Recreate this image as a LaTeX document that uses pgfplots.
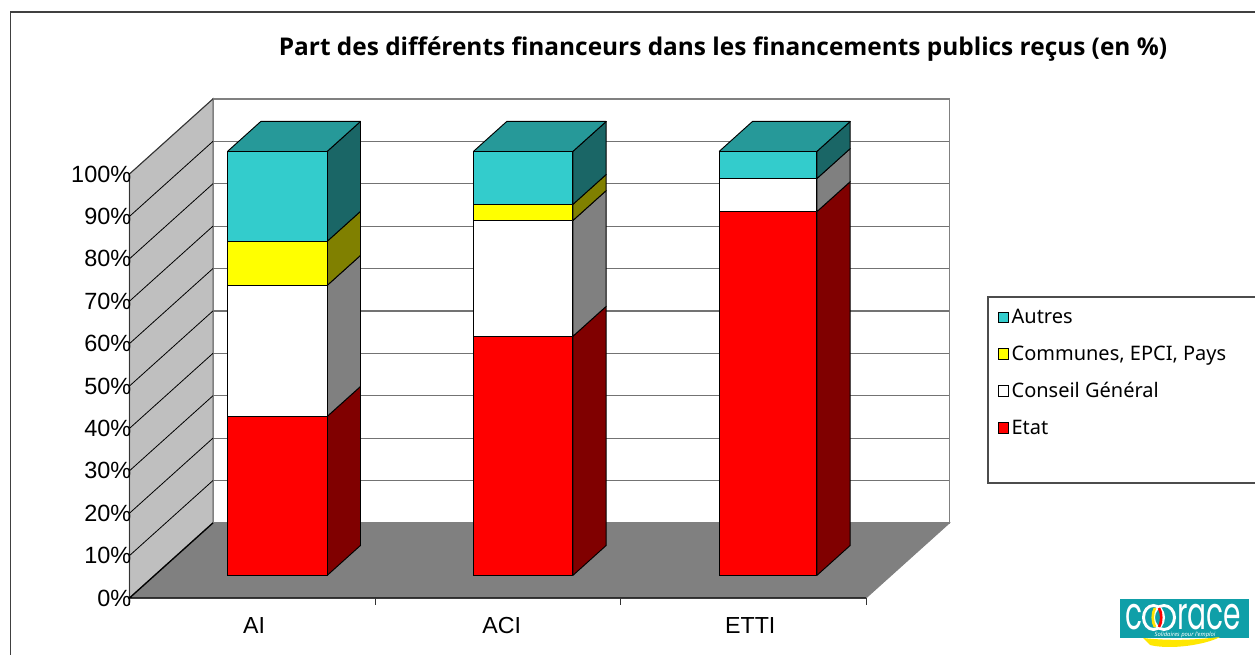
\documentclass[border=0pt]{standalone}
\usepackage{fontspec}
\setmainfont{Liberation Sans}
\newfontfamily\tahoma{Noto Sans}
\newfontfamily\titlefont{Open Sans}
\newfontfamily\logofont{Poppins}
\usepackage{pgfplots}
\pgfplotsset{compat=1.18}

\definecolor{cautres}{HTML}{33CCCC}
\definecolor{cautresS}{HTML}{1A6666}
\definecolor{cautresT}{HTML}{269999}
\definecolor{ccomm}{HTML}{FFFF00}
\definecolor{ccommS}{HTML}{808000}
\definecolor{ccons}{HTML}{FFFFFF}
\definecolor{cconsS}{HTML}{808080}
\definecolor{cetat}{HTML}{FF0000}
\definecolor{cetatS}{HTML}{800000}
\definecolor{logoteal}{HTML}{0F9FA8}

% one stacked block: x left, x right, z bottom, z top, front colour, side colour
\newcommand{\block}[6]{%
  \addplot3[draw=black,line width=0.7pt,line join=round,fill=#6] coordinates {(#2,0.3,#3)(#2,0.7,#3)(#2,0.7,#4)(#2,0.3,#4)(#2,0.3,#3)};
  \addplot3[draw=black,line width=0.7pt,line join=round,fill=#5] coordinates {(#1,0.3,#3)(#2,0.3,#3)(#2,0.3,#4)(#1,0.3,#4)(#1,0.3,#3)};
}
\newcommand{\blocktop}[3]{%
  \addplot3[draw=black,line width=0.7pt,line join=round,fill=#3] coordinates {(#1,0.3,100)(#2,0.3,100)(#2,0.7,100)(#1,0.7,100)(#1,0.3,100)};
}

\begin{document}
\begin{tikzpicture}
\begin{axis}[
    x={(184.1pt,0pt)}, y={(62.6pt,56.3pt)}, z={(0pt,3.18pt)},
    xmin=0, xmax=3, ymin=0, ymax=1, zmin=0, zmax=100,
    hide axis, clip=false,
    legend style={draw=none, fill=none, at={(1.059,0.584)}, anchor=north west,
      font=\tahoma\fontsize{15}{18}\selectfont, row sep=11.1pt, inner sep=0pt,
      /tikz/every even column/.style={column sep=3pt}},
    legend cell align=left,
    legend image code/.code={\draw[#1,line width=0.6pt] (0pt,-3.6pt) rectangle (7.6pt,4pt);},
]
\addlegendimage{fill=cautres,draw=black}
\addlegendentry{Autres}
\addlegendimage{fill=ccomm,draw=black}
\addlegendentry{Communes, EPCI, Pays}
\addlegendimage{fill=ccons,draw=black}
\addlegendentry{Conseil Général}
\addlegendimage{fill=cetat,draw=black}
\addlegendentry{Etat}

% walls and floor
\addplot3[draw=gray,line width=1pt,fill=white] coordinates {(0,1,0)(3,1,0)(3,1,100)(0,1,100)(0,1,0)};
\addplot3[draw=gray,line width=0.8pt,fill=black!25] coordinates {(0,0,0)(0,1,0)(0,1,100)(0,0,100)(0,0,0)};
\pgfplotsinvokeforeach{10,20,30,40,50,60,70,80,90}{
  \addplot3[draw=gray!90!black,line width=0.9pt] coordinates {(0,1,#1)(3,1,#1)};
  \addplot3[draw=black,line width=0.6pt] coordinates {(0,0,#1)(0,1,#1)};
}
\addplot3[draw=black!80,line width=0.7pt] coordinates {(0,0,0)(0,0,100)(0,1,100)};
\addplot3[draw=gray,line width=0.8pt,fill=gray] coordinates {(0,0,0)(3,0,0)(3,1,0)(0,1,0)(0,0,0)};
\addplot3[draw=black,line width=1pt] coordinates {(0,1,0)(0,0,0)(3,0,0)};

% ticks on the floor edge
\pgfplotsinvokeforeach{0,1,2,3}{
  \draw[black!80,line width=0.6pt] (axis cs:#1,0,0) -- ++(0pt,-5.5pt);
}
\pgfplotsinvokeforeach{0,10,20,30,40,50,60,70,80,90,100}{
  \node[anchor=east,inner sep=0pt,font=\fontsize{17.6}{20}\selectfont] at ([xshift=1.5pt]axis cs:0,0,#1) {#1\%};
}
\node[font=\fontsize{17.4}{20}\selectfont] at ([yshift=-20.5pt]axis cs:0.508,0,0) {AI};
\node[font=\fontsize{17.4}{20}\selectfont] at ([yshift=-20.5pt]axis cs:1.516,0,0) {ACI};
\node[font=\fontsize{17.4}{20}\selectfont] at ([yshift=-20.5pt]axis cs:2.529,0,0) {ETTI};

% AI
\block{0.297}{0.703}{0}{37.5}{cetat}{cetatS}
\block{0.297}{0.703}{37.5}{68.4}{ccons}{cconsS}
\block{0.297}{0.703}{68.4}{78.8}{ccomm}{ccommS}
\block{0.297}{0.703}{78.8}{100}{cautres}{cautresS}
\blocktop{0.297}{0.703}{cautresT}
% ACI
\block{1.299}{1.704}{0}{56.4}{cetat}{cetatS}
\block{1.299}{1.704}{56.4}{83.7}{ccons}{cconsS}
\block{1.299}{1.704}{83.7}{87.5}{ccomm}{ccommS}
\block{1.299}{1.704}{87.5}{100}{cautres}{cautresS}
\blocktop{1.299}{1.704}{cautresT}
% ETTI
\block{2.300}{2.698}{0}{85.8}{cetat}{cetatS}
\block{2.300}{2.698}{85.8}{93.6}{ccons}{cconsS}
\block{2.300}{2.698}{93.6}{100}{cautres}{cautresS}
\blocktop{2.300}{2.698}{cautresT}

\coordinate (o) at (axis cs:0,0,0);
\end{axis}

% page furniture, in reference pixels
\begin{scope}[shift={(o)},xshift=-97.125pt,yshift=448.5pt,x=0.75pt,y=-0.75pt]
  \draw[black!75,line width=1.1pt] (10.5,655) -- (10.5,12) -- (1255,12);
  \draw[black!70,line width=0.8pt] (1255,297) -- (988,297) -- (988,483) -- (1255,483);
  \node[font=\titlefont\bfseries\fontsize{18.3}{21}\selectfont] at (723,49) {Part des différents financeurs dans les financements publics reçus (en \%)};
  % logo
  \fill[logoteal] (1120,599) rectangle (1249,638);
  \draw[white,line width=2.2pt] (1153.5,617.5) ellipse (10 and 12);
  \draw[white,line width=2.2pt] (1164,617.5) ellipse (10.5 and 12);
  \draw[yellow!85!orange,line width=2pt] (1155,608) .. controls (1152,613) and (1152,622) .. (1155,627);
  \draw[red,line width=2pt] (1159,608) .. controls (1162,613) and (1162,622) .. (1159,627);
  \node[white,font=\logofont\fontsize{34}{36}\selectfont,xscale=0.62,anchor=base east,inner sep=0pt] at (1143,629.5) {c};
  \node[white,font=\logofont\fontsize{34}{36}\selectfont,xscale=0.62,anchor=base west,inner sep=0pt] at (1177,629.5) {race};
  \node[white,font=\tahoma\itshape\fontsize{4.4}{5}\selectfont,inner sep=0pt] at (1185,635) {Solidaires pour l'emploi};
  \fill[yellow!90!orange] (1143,638) .. controls (1170,641) and (1195,640) .. (1220,637) .. controls (1205,645) and (1170,650) .. (1150,645) -- cycle;
  \pgfresetboundingbox
  \path[use as bounding box] (0,0) rectangle (1255,655);
\end{scope}
\end{tikzpicture}
\end{document}
